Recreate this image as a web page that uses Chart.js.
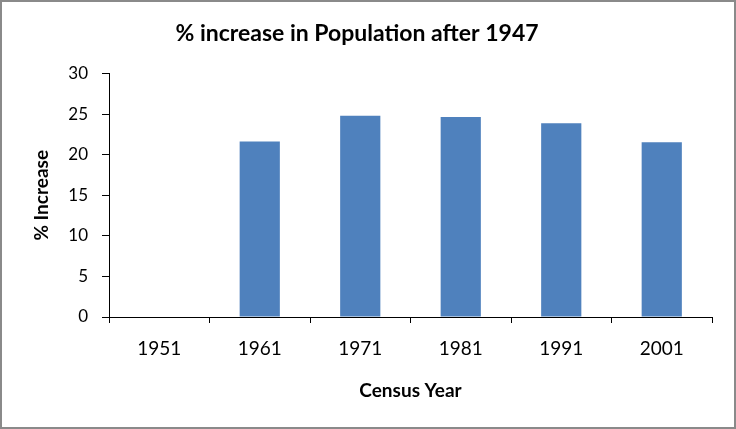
<!DOCTYPE html>
<html>
<head>
<meta charset="utf-8">
<script src="https://cdn.jsdelivr.net/npm/chart.js@4"></script>
<style>
  body { margin: 0; background: #fff; }
  #wrap { width: 736px; height: 429px; box-sizing: border-box; border: 2px solid #8a8a8a; }
  canvas { display: block; }
</style>
</head>
<body>
<div id="wrap"><canvas id="chart" width="732" height="425"></canvas></div>
<script>
const years = ['1951', '1961', '1971', '1981', '1991', '2001'];
const increase = [null, 21.64, 24.80, 24.66, 23.87, 21.54];
const yTicks = [0, 5, 10, 15, 20, 25, 30];

const font = 'Lato';

new Chart(document.getElementById('chart'), {
    type: 'bar',
    data: {
        labels: years,
        datasets: [{
            label: '% Increase',
            data: increase,
            backgroundColor: '#4f81bd',
            barPercentage: 0.4,
            categoryPercentage: 1
        }]
    },
    options: {
        responsive: false,
        animation: false,
        devicePixelRatio: 1,
        layout: { padding: { left: 0, right: 22, top: 0, bottom: 0 } },
        plugins: {
            legend: { display: false },
            tooltip: { enabled: false },
            title: {
                display: true,
                text: '% increase in Population after 1947',
                color: '#000',
                font: { family: font, size: 23, weight: 'bold' },
                padding: { top: 18, bottom: 26 }
            }
        },
        scales: {
            x: {
                grid: { drawOnChartArea: false, color: '#000', tickLength: 6 },
                border: { color: '#000', width: 1 },
                ticks: { color: '#000', font: { family: font, size: 19 }, padding: 14 },
                title: {
                    display: true,
                    text: 'Census Year',
                    color: '#000',
                    font: { family: font, size: 19, weight: 'bold' },
                    padding: { top: 0, bottom: 25 }
                },
                afterFit: s => { s.height = 110; }
            },
            y: {
                min: 0,
                max: 30,
                afterBuildTicks: s => { s.ticks = yTicks.map(v => ({ value: v })); },
                grid: { drawOnChartArea: false, color: '#000', tickLength: 7 },
                border: { color: '#000', width: 1 },
                ticks: { color: '#000', font: { family: font, size: 17 }, padding: 14 },
                title: {
                    display: true,
                    text: '% Increase',
                    color: '#000',
                    font: { family: font, size: 19, weight: 'bold' },
                    padding: { top: 28, bottom: 0 }
                },
                afterFit: s => { s.width = 107; }
            }
        }
    }
});
</script>
</body>
</html>
